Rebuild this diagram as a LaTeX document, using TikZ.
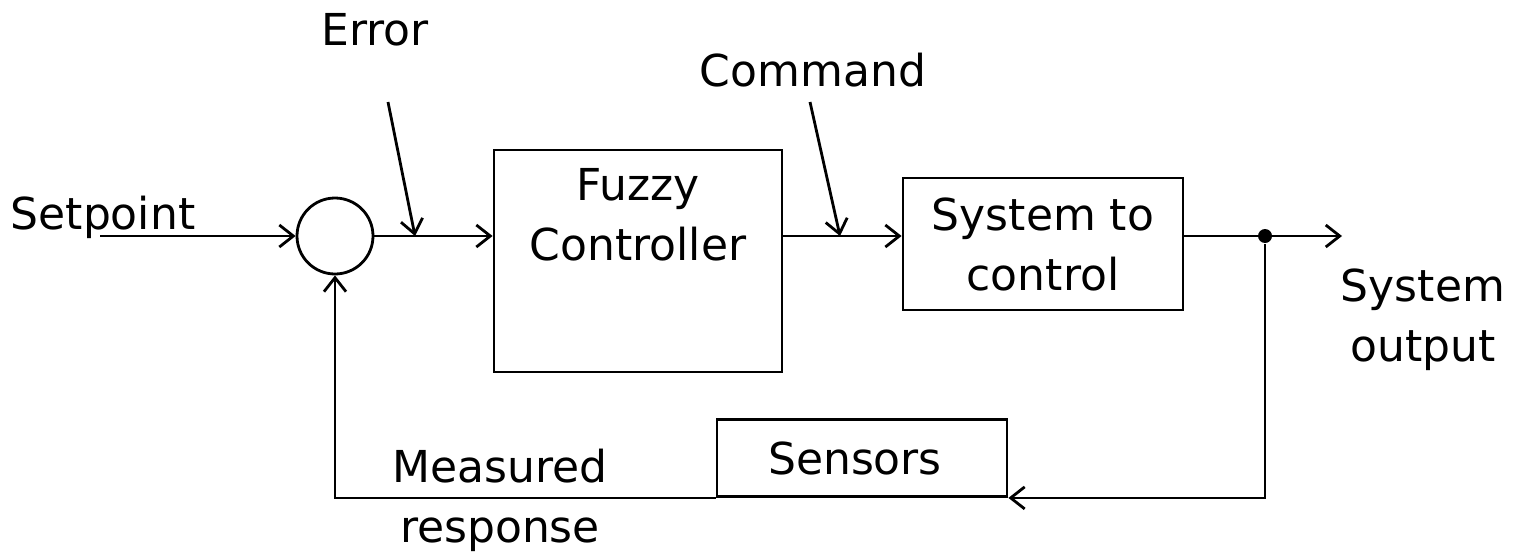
\documentclass[tikz,border=0pt]{standalone}
\usepackage{fontspec}
\setmainfont{DejaVu Sans}
\usetikzlibrary{arrows.meta,positioning}

\begin{document}
\begin{tikzpicture}[x=0.5pt, y=-0.5pt, line width=1.4pt,
	every node/.style = { font=\fontsize{22}{30}\selectfont, align=center },
	block/.style = { draw, inner sep=0pt },
	signal/.style = { draw, -{Straight Barb[length=7pt, width=11pt]} }]
	\useasboundingbox (0,0) rectangle (1518,552);

	\node [draw, circle, minimum size=38pt] (sum) at (335,236) {};
	\node [block, minimum width=144pt, minimum height=111pt] (fuzzy) at (638,261) {};
	\node (fuzzylabel) at (638,215) { Fuzzy\\Controller };
	\node [block, minimum width=140pt, minimum height=66pt] (sys) at (1043,244) { System to\\control };
	\node [block, minimum width=145pt, minimum height=38.5pt] (sensors) at (862,458) { Sensors };
	\node [circle, fill, inner sep=0pt, minimum size=7pt] (tap) at (1265,236) {};

	\node (setpoint) at (110,217) { Setpoint };
	\node (error) at (382,30) { Error };
	\node (command) at (820,70) { Command };
	\node (output) at (1423,320) { System\\output };
	\node (measured) at (500,500) { Measured\\response };

	\coordinate (setin) at (100,236);
	\coordinate (errtail) at (388,102);
	\coordinate (errtip) at (415,236);
	\coordinate (cmdtail) at (810,102);
	\coordinate (cmdtip) at (840,236);
	\coordinate (out) at (1342,236);

	\draw [signal] (setin) -- (sum);
	\draw [signal] (sum) -- (fuzzy.west |- sum);
	\draw [signal] (fuzzy.east |- sum) -- (sys.west |- sum);
	\draw [signal] (sys.east |- sum) -- (out);
	\draw [signal] (tap) |- (sensors.south east);
	\draw [signal] (sensors.south west) -| (sum);
	\draw [signal] (errtail) -- (errtip);
	\draw [signal] (cmdtail) -- (cmdtip);
\end{tikzpicture}
\end{document}
